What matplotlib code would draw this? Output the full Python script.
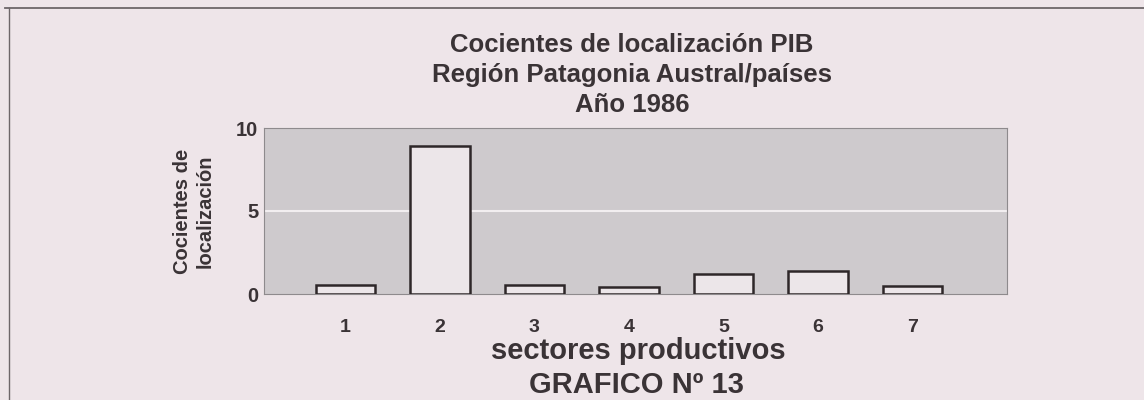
import matplotlib
matplotlib.use("Agg")
import matplotlib.pyplot as plt
from matplotlib.lines import Line2D

sectors = ["1", "2", "3", "4", "5", "6", "7"]
values = [0.55, 8.9, 0.55, 0.45, 1.2, 1.4, 0.5]
yticks = [0, 5, 10]

title_lines = ["Cocientes de localización PIB", "Región Patagonia Austral/países", "Año 1986"]
ylabel = "Cocientes de\nlocalización"
xlabel = "sectores productivos"
caption = "GRAFICO Nº 13"

BG = "#eee5e9"
PLOT_BG = "#cecacd"
TXT = "#3a3336"
EDGE = "#2e2729"
BAR = "#ece6e9"

plt.rcParams['font.family'] = ['Liberation Sans', 'DejaVu Sans']

W, H = 1144, 400
fig = plt.figure(figsize=(W / 100, H / 100), dpi=100, facecolor=BG)

ax = fig.add_axes([264 / W, 1 - 294 / H, (1007 - 264) / W, (294 - 128) / H])
ax.set_facecolor(PLOT_BG)

x = list(range(1, len(sectors) + 1))
ax.bar(x, values, width=0.63, color=BAR, edgecolor=EDGE, linewidth=1.8, zorder=3)

ax.set_xlim(0.14, 8.0)
ax.set_ylim(0, 10)
ax.set_yticks(yticks)
ax.set_yticklabels([str(v) for v in yticks], fontsize=14.5, fontweight='bold', color=TXT)
ax.set_xticks(x)
ax.set_xticklabels(sectors, fontsize=14, fontweight='bold', color=TXT)
ax.tick_params(axis='both', length=0)
ax.tick_params(axis='y', pad=4)
ax.tick_params(axis='x', pad=18)
ax.axhline(5, color="#f2eef0", linewidth=1.5, zorder=1)
for s in ax.spines.values():
    s.set_color("#8e8a8d")
    s.set_linewidth(0.8)

ax.set_ylabel(ylabel, fontsize=14.5, fontweight='bold', color=TXT, linespacing=1.2)
ax.yaxis.label.set_va('center')
ax.yaxis.set_label_coords((194 - 264) / 743, 0.5)

fig.text(632 / W, 1 - 75 / H, "\n".join(title_lines), ha='center', va='center',
         fontsize=18.5, fontweight='bold', color=TXT, linespacing=1.3)
fig.text(638 / W, 1 - 351 / H, xlabel, ha='center', va='center',
         fontsize=21, fontweight='bold', color=TXT)
fig.text(636 / W, 1 - 385 / H, caption, ha='center', va='center',
         fontsize=21, fontweight='bold', color=TXT)

# outer frame (top and left edges visible)
fig.add_artist(Line2D([5 / W, 1], [1 - 8 / H, 1 - 8 / H], transform=fig.transFigure,
                      color="#6d6669", linewidth=1.3))
fig.add_artist(Line2D([9 / W, 9 / W], [0, 1 - 8 / H], transform=fig.transFigure,
                      color="#6d6669", linewidth=1.0))

fig.savefig("out.png", dpi=100, facecolor=BG)
